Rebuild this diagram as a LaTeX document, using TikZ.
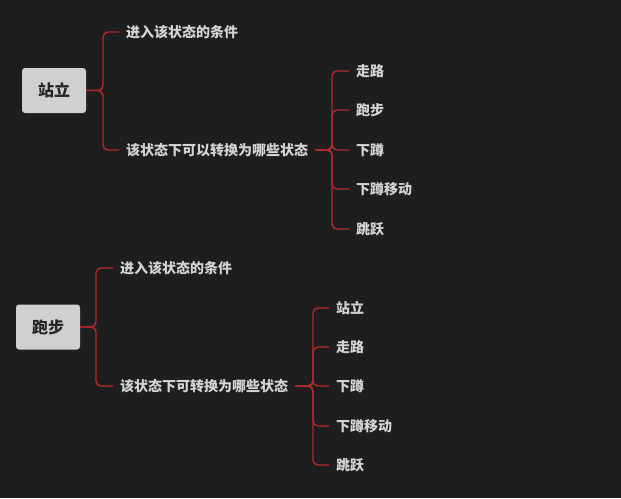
\documentclass[tikz,border=0pt]{standalone}
\usepackage{fontspec}
\setmainfont{Noto Sans CJK SC}
\definecolor{bg}{HTML}{1E1E1E}
\definecolor{rootfill}{HTML}{D0D0D0}
\definecolor{txt}{HTML}{D4D4D4}
\definecolor{conn}{HTML}{B22A2A}
\tikzset{
  rootbox/.style={fill=rootfill,rounded corners=3pt,minimum width=64pt,minimum height=45pt,font=\fontsize{16}{16}\selectfont\bfseries,text=black!85,inner sep=0pt},
  lbl/.style={anchor=west,text=txt,font=\fontsize{14}{14}\selectfont\bfseries,inner xsep=7pt,inner ysep=1pt},
  link/.style={draw=conn,line width=1.4pt,rounded corners=5pt}
}
\begin{document}
\begin{tikzpicture}[x=1pt,y=-1pt]
\fill[bg] (0,0) rectangle (621,498);
\useasboundingbox (0,0) rectangle (621,498);
% tree 1
\node[rootbox] (r1) at (54,90.5) {站立};
\node[lbl] (a1) at (119,32) {进入该状态的条件};
\node[lbl] (a2) at (119,150) {该状态下可以转换为哪些状态};
\foreach \t/\y/\n in {走路/71/l1,跑步/110/l2,下蹲/150/l3,下蹲移动/189/l4,跳跃/229/l5}
  \node[lbl] (\n) at (349,\y) {\t};
\draw[link] (r1.east) -- (103,90.5) |- (a1.west);
\draw[link] (r1.east) -- (103,90.5) |- (a2.west);
\foreach \n in {l1,l2,l3,l4,l5}
  \draw[link] (a2.east) -- (332,150) |- (\n.west);
% tree 2
\node[rootbox] (r2) at (48,327) {跑步};
\node[lbl] (b1) at (113,268) {进入该状态的条件};
\node[lbl] (b2) at (113,386) {该状态下可转换为哪些状态};
\foreach \t/\y/\n in {站立/308/m1,走路/347/m2,下蹲/386/m3,下蹲移动/426/m4,跳跃/465/m5}
  \node[lbl] (\n) at (329,\y) {\t};
\draw[link] (r2.east) -- (96,327) |- (b1.west);
\draw[link] (r2.east) -- (96,327) |- (b2.west);
\foreach \n in {m1,m2,m3,m4,m5}
  \draw[link] (b2.east) -- (313,386) |- (\n.west);
\end{tikzpicture}
\end{document}
